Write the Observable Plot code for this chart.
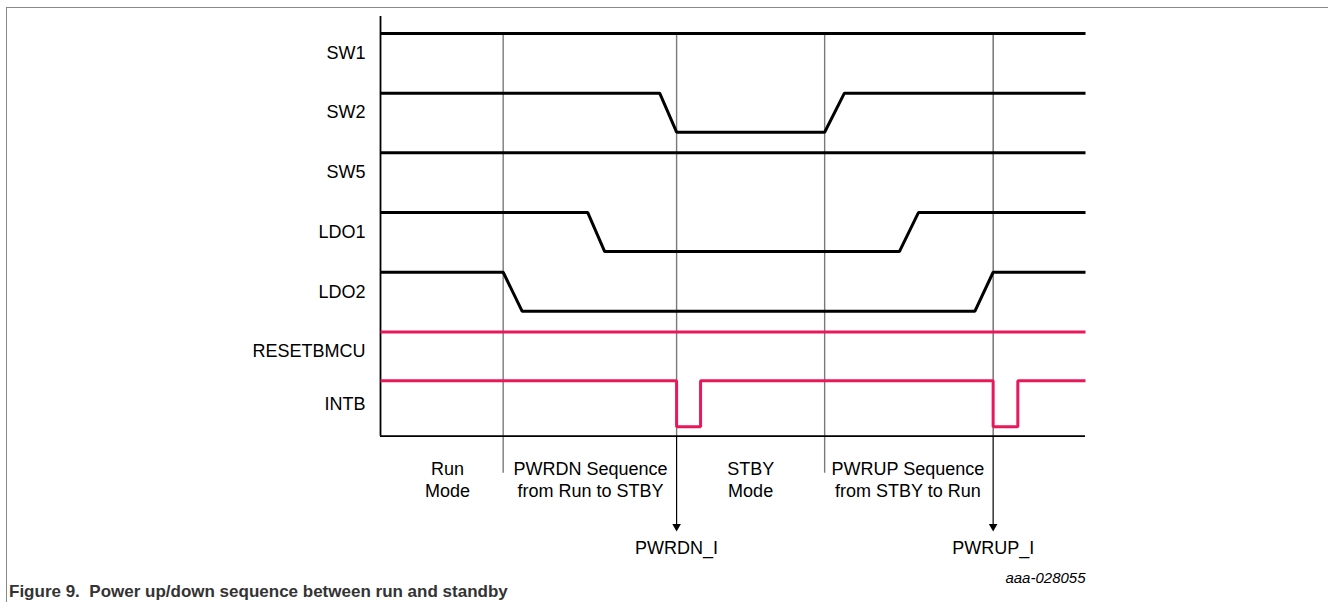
<!DOCTYPE html>
<html><head><meta charset="utf-8">
<script src="https://cdn.jsdelivr.net/npm/d3@7"></script>
<script src="https://cdn.jsdelivr.net/npm/@observablehq/plot@0.6"></script>
<style>
html,body{margin:0;padding:0;background:#fff;overflow:hidden;}
body{width:1328px;height:602px;position:relative;font-family:"Liberation Sans",Arial,sans-serif;}
#frame{position:absolute;left:6px;top:7px;width:1400px;height:700px;border-left:1.5px solid #888;border-top:1.5px solid #888;box-sizing:border-box;}
#chart{position:absolute;left:0;top:0;}
#caption{position:absolute;left:9px;top:582px;font-weight:bold;font-size:17px;line-height:20px;color:#333;white-space:pre;}
</style></head><body>
<div id="frame"></div><div id="chart"></div><div id="caption"></div>
<script>
// ---- data (time in normalized units 0..100, level 1 = high, 0 = low) ----
const signals = ["SW1", "SW2", "SW5", "LDO1", "LDO2", "RESETBMCU", "INTB"];
const signalColor = ["black", "black", "black", "black", "black", "red", "red"];
const waveSW1 = [[0, 1], [100, 1]];
const waveSW2 = [[0, 1], [39.6, 1], [42.0, 0], [63.0, 0], [65.8, 1], [100, 1]];
const waveSW5 = [[0, 1], [100, 1]];
const waveLDO1 = [[0, 1], [29.4, 1], [31.8, 0], [73.6, 0], [76.3, 1], [100, 1]];
const waveLDO2 = [[0, 1], [17.4, 1], [20.1, 0], [84.3, 0], [86.9, 1], [100, 1]];
const waveRESETBMCU = [[0, 1], [100, 1]];
const waveINTB = [[0, 1], [42.0, 1], [42.0, 0], [45.4, 0], [45.4, 1], [86.9, 1], [86.9, 0], [90.4, 0], [90.4, 1], [100, 1]];
const dividerTimes = [17.4, 63.0];
const eventTimes = [42.0, 86.9];
const eventLabels = ["PWRDN_I", "PWRUP_I"];
const phaseTimes = [9.5, 29.8, 52.5, 74.8];
const phaseLabels = ["Run\nMode", "PWRDN Sequence\nfrom Run to STBY", "STBY\nMode", "PWRUP Sequence\nfrom STBY to Run"];
const figureId = "aaa-028055";
const captionText = "Figure 9.  Power up/down sequence between run and standby";

// ---- layout (row units) ----
const rowCenter = [0, 1, 2, 3, 4, 5, 5.876];
const halfSwing = [0.327, 0.327, 0.327, 0.327, 0.327, 0.327, 0.385];
const waves = [waveSW1, waveSW2, waveSW5, waveLDO1, waveLDO2, waveRESETBMCU, waveINTB];
const colors = {black: "#000", red: "#e8185a"};

const lineData = [];
waves.forEach((w, i) => w.forEach(([t, lv]) => lineData.push({
  signal: signals[i], t, y: rowCenter[i] + (lv ? -halfSwing[i] : halfSwing[i]), color: colors[signalColor[i]]
})));

const W = 1328, H = 590;
const yTop = -0.611, yBottom = 6.419;
const topLevel = rowCenter[0] - halfSwing[0];
const nameByCenter = new Map(rowCenter.map((c, i) => [c, signals[i]]));
const font = "Liberation Sans, Arial, sans-serif";

const plot = Plot.plot({
  width: W, height: H,
  marginLeft: 380, marginRight: W - 1085, marginTop: 16, marginBottom: H - 435.7,
  x: {domain: [0, 100], axis: null},
  y: {domain: [yBottom, yTop], axis: null},
  style: {fontFamily: font, fontSize: "18px", color: "#000", background: "transparent"},
  marks: [
    // gray section dividers
    Plot.ruleX(dividerTimes, {y1: topLevel, y2: 7.04, stroke: "#7a7a7a", strokeWidth: 1.4}),
    Plot.ruleX(eventTimes, {y1: topLevel, y2: yBottom, stroke: (d, i) => i ? "#444" : "#7a7a7a", strokeWidth: (d, i) => i ? 1.1 : 1.4}),
    // arrows to events
    Plot.ruleX(eventTimes, {y1: yBottom, y2: 7.93, stroke: "#000", strokeWidth: 1.2}),
    Plot.dot(eventTimes, {x: d => d, y: 7.93, symbol: "triangle", rotate: 180, r: 3.2, fill: "#000", stroke: "none"}),
    // axes frame
    Plot.ruleX([0], {y1: yTop, y2: yBottom, stroke: "#000", strokeWidth: 1.8}),
    Plot.ruleY([yBottom], {x1: 0, x2: 100, stroke: "#000", strokeWidth: 1.8}),
    // waveforms
    Plot.line(lineData, {x: "t", y: "y", z: "signal", stroke: "color", strokeWidth: 3, strokeLinejoin: "miter", strokeLinecap: "butt"}),
    // signal names
    Plot.axisY(rowCenter, {anchor: "left", label: null, tickSize: 0, tickPadding: 15, fontSize: 18, tickFormat: d => nameByCenter.get(d), fill: "#000"}),
    // phase labels
    Plot.text(phaseTimes, {x: d => d, y: 7.13, text: (d, i) => phaseLabels[i], fontSize: 18, lineHeight: 1.22, fill: "#000"}),
    Plot.text(eventTimes, {x: d => d, y: 8.3, text: (d, i) => eventLabels[i], fontSize: 18, fill: "#000"}),
    Plot.text([figureId], {x: 100, y: 8.79, text: d => d, textAnchor: "end", fontSize: 15, fontStyle: "italic", fill: "#000"})
  ]
});
document.getElementById("chart").appendChild(plot);
document.getElementById("caption").textContent = captionText;
</script>
</body></html>
